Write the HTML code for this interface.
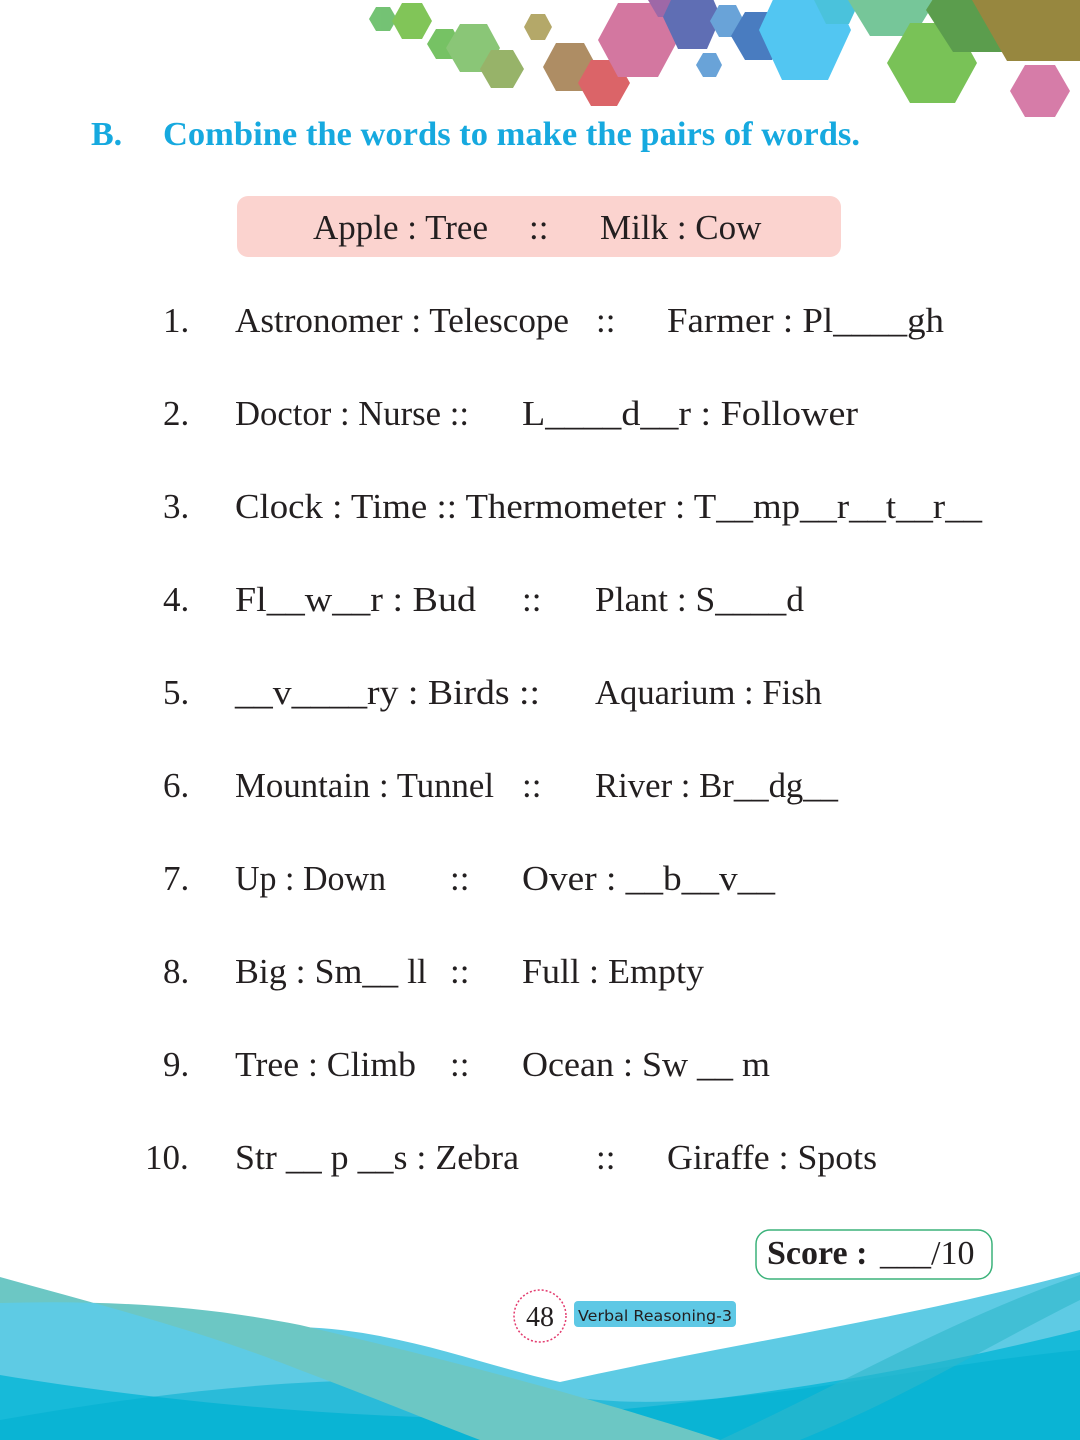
<!DOCTYPE html>
<html><head><meta charset="utf-8"><style>
html,body{margin:0;padding:0;background:#fff;}
svg{display:block;}
.t{font-family:"Liberation Serif",serif;font-size:35px;fill:#231f20;}
</style></head><body>
<svg width="1080" height="1440" viewBox="0 0 1080 1440" xmlns="http://www.w3.org/2000/svg">
<g opacity="0.85">
<polygon points="369,19 376,7 390,7 397,19 390,31 376,31" fill="#5cb85c"/>
<polygon points="392,21 402,3 422,3 432,21 422,39 402,39" fill="#6cbb3c"/>
<polygon points="427,44 436,29 453,29 461,44 453,59 436,59" fill="#5fb84a"/>
<polygon points="446,48 460,24 487,24 500,48 487,72 460,72" fill="#76bd60"/>
<polygon points="480,69 491,50 513,50 524,69 513,88 491,88" fill="#86a650"/>
<polygon points="524,27 531,14 545,14 552,27 545,40 531,40" fill="#a89a50"/>
<polygon points="543,67 556,43 584,43 597,67 584,91 556,91" fill="#a07a4a"/>
<polygon points="578,83 591,60 617,60 630,83 617,106 591,106" fill="#d54a4e"/>
<polygon points="598,40 618,3 658,3 678,40 658,77 618,77" fill="#cc6090"/>
<polygon points="648,0 658,-17 678,-17 688,0 678,17 658,17" fill="#8e4e98"/>
<polygon points="663,17 678,-15 707,-15 721,17 707,49 678,49" fill="#4455a8"/>
<polygon points="710,21 719,5 736,5 744,21 736,37 719,37" fill="#4f94d2"/>
<polygon points="696,65 703,53 716,53 722,65 716,77 703,77" fill="#4f94d2"/>
<polygon points="731,36 745,12 772,12 785,36 772,60 745,60" fill="#2a66b6"/>
<polygon points="759,30 782,-20 828,-20 851,30 828,80 782,80" fill="#34bdf0"/>
<polygon points="814,0 826,-24 849,-24 860,0 849,24 826,24" fill="#2bb8d6"/>
<polygon points="848,0 870,-36 914,-36 936,0 914,36 870,36" fill="#5fbd88"/>
<polygon points="887,63 910,23 955,23 977,63 955,103 910,103" fill="#62b83a"/>
<polygon points="926,10 953,-32 1007,-32 1034,10 1007,52 953,52" fill="#3f8c2e"/>
<polygon points="972,0 1080,0 1080,61 1007,61" fill="#85731e"/>
<polygon points="1010,91 1025,65 1055,65 1070,91 1055,117 1025,117" fill="#cf6699"/>
</g>
<text x="91" y="145" font-family="Liberation Serif,serif" font-weight="bold" font-size="34" fill="#16a9df">B.</text>
<text x="163" y="145" font-family="Liberation Serif,serif" font-weight="bold" font-size="34" fill="#16a9df" textLength="697" lengthAdjust="spacingAndGlyphs">Combine the words to make the pairs of words.</text>
<rect x="237" y="196" width="604" height="61" rx="11" fill="#fbd3cf"/>
<text class="t" x="313" y="239">Apple : Tree</text>
<text class="t" x="529" y="239">::</text>
<text class="t" x="600" y="239">Milk : Cow</text>
<g class="t">
<text class="t" x="163" y="332">1.</text>
<text class="t" x="235" y="332" textLength="334" lengthAdjust="spacingAndGlyphs">Astronomer : Telescope</text>
<text class="t" x="596" y="332">::</text>
<text class="t" x="667" y="332" textLength="277" lengthAdjust="spacingAndGlyphs">Farmer : Pl____gh</text>
<text class="t" x="163" y="425">2.</text>
<text class="t" x="235" y="425" textLength="234" lengthAdjust="spacingAndGlyphs">Doctor : Nurse ::</text>
<text class="t" x="522" y="425" textLength="336" lengthAdjust="spacingAndGlyphs">L____d__r : Follower</text>
<text class="t" x="163" y="518">3.</text>
<text class="t" x="235" y="518" textLength="747" lengthAdjust="spacingAndGlyphs">Clock  : Time  :: Thermometer : T__mp__r__t__r__</text>
<text class="t" x="163" y="611">4.</text>
<text class="t" x="235" y="611" textLength="241" lengthAdjust="spacingAndGlyphs">Fl__w__r : Bud</text>
<text class="t" x="522" y="611">::</text>
<text class="t" x="595" y="611" textLength="209" lengthAdjust="spacingAndGlyphs">Plant : S____d</text>
<text class="t" x="163" y="704">5.</text>
<text class="t" x="235" y="704" textLength="305" lengthAdjust="spacingAndGlyphs">__v____ry : Birds  ::</text>
<text class="t" x="595" y="704" textLength="227" lengthAdjust="spacingAndGlyphs">Aquarium : Fish</text>
<text class="t" x="163" y="797">6.</text>
<text class="t" x="235" y="797" textLength="259" lengthAdjust="spacingAndGlyphs">Mountain : Tunnel</text>
<text class="t" x="522" y="797">::</text>
<text class="t" x="595" y="797" textLength="243" lengthAdjust="spacingAndGlyphs">River : Br__dg__</text>
<text class="t" x="163" y="890">7.</text>
<text class="t" x="235" y="890" textLength="151" lengthAdjust="spacingAndGlyphs">Up : Down</text>
<text class="t" x="450" y="890">::</text>
<text class="t" x="522" y="890" textLength="253" lengthAdjust="spacingAndGlyphs">Over : __b__v__</text>
<text class="t" x="163" y="983">8.</text>
<text class="t" x="235" y="983" textLength="192" lengthAdjust="spacingAndGlyphs">Big : Sm__ ll</text>
<text class="t" x="450" y="983">::</text>
<text class="t" x="522" y="983" textLength="182" lengthAdjust="spacingAndGlyphs">Full : Empty</text>
<text class="t" x="163" y="1076">9.</text>
<text class="t" x="235" y="1076" textLength="181" lengthAdjust="spacingAndGlyphs">Tree : Climb</text>
<text class="t" x="450" y="1076">::</text>
<text class="t" x="522" y="1076" textLength="248" lengthAdjust="spacingAndGlyphs">Ocean : Sw __ m</text>
<text class="t" x="145" y="1169">10.</text>
<text class="t" x="235" y="1169" textLength="284" lengthAdjust="spacingAndGlyphs">Str __ p __s : Zebra</text>
<text class="t" x="596" y="1169">::</text>
<text class="t" x="667" y="1169" textLength="210" lengthAdjust="spacingAndGlyphs">Giraffe : Spots</text>
</g>
<path d="M0,1295 C100,1300 200,1318 300,1327 C400,1330 480,1365 560,1382 C750,1340 900,1320 1080,1272 L1080,1440 L0,1440 Z" fill="#5ecbe4"/>
<path d="M0,1375 C150,1400 350,1420 520,1418 C700,1405 880,1380 1080,1330 L1080,1440 L0,1440 Z" fill="#00b4d6" opacity="0.75"/>
<path d="M0,1440 L0,1420 C200,1385 400,1365 560,1395 C700,1420 880,1370 1080,1350 L1080,1440 Z" fill="#00aecf" opacity="0.55"/>
<path d="M0,1277 C100,1305 200,1330 300,1370 C380,1400 440,1425 480,1440 L720,1440 C600,1400 450,1360 300,1325 C200,1305 100,1300 0,1303 Z" fill="#6cc7c4"/>
<path d="M720,1440 C850,1380 950,1320 1080,1275 L1080,1300 C980,1350 900,1400 800,1440 Z" fill="#2fb8cc" opacity="0.6"/>
<rect x="756" y="1230" width="236" height="49" rx="14" fill="#fff" stroke="#3bb27a" stroke-width="1.5"/>
<text x="767" y="1264" font-family="Liberation Serif,serif" font-weight="bold" font-size="34" fill="#231f20">Score :</text>
<text x="880" y="1264" font-family="Liberation Serif,serif" font-size="34" fill="#231f20">___/10</text>
<circle cx="540" cy="1316" r="26" fill="#fff" stroke="#e33b6e" stroke-width="1.5" stroke-dasharray="2,2"/>
<text x="540" y="1326" text-anchor="middle" font-family="Liberation Serif,serif" font-size="28" fill="#231f20">48</text>
<rect x="574" y="1301" width="162" height="26" rx="4" fill="#5ec8e5"/>
<text x="655" y="1321" text-anchor="middle" font-family="DejaVu Sans,sans-serif" font-size="15" fill="#231f20" textLength="154" lengthAdjust="spacingAndGlyphs">Verbal Reasoning-3</text>
</svg>
</body></html>
